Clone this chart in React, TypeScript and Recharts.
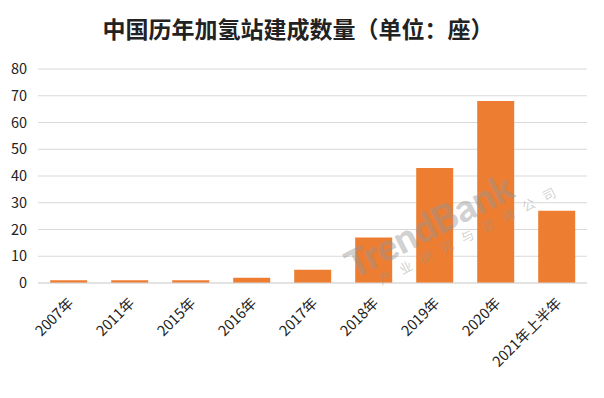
import React from 'react';
import { BarChart, Bar, XAxis, YAxis, CartesianGrid } from 'recharts';

const years = ['2007年', '2011年', '2015年', '2016年', '2017年', '2018年', '2019年', '2020年', '2021年上半年'];
const stations = [1, 1, 1, 2, 5, 17, 43, 68, 27];
const yTicks = [0, 10, 20, 30, 40, 50, 60, 70, 80];

const data = years.map((year, i) => ({ year, count: stations[i] }));

const FONT = '"Noto Sans CJK SC", "Noto Sans", sans-serif';

const XTick = (props: any) => {
  const { x, y, payload } = props;
  return (
    <text
      x={x + 6}
      y={y + 13}
      textAnchor="end"
      fontSize={14.5}
      fill="#222"
      fontFamily={FONT}
      transform={`rotate(-45, ${x + 6}, ${y + 13})`}
    >
      {payload.value}
    </text>
  );
};

export default function App() {
  return (
    <div
      style={{
        position: 'absolute',
        left: 0,
        top: 0,
        width: 604,
        height: 398,
        background: '#fff',
        fontFamily: FONT,
        overflow: 'hidden',
      }}
    >
      <div
        style={{
          position: 'absolute',
          top: 11,
          left: 0,
          width: 596,
          textAlign: 'center',
          fontSize: 23,
          fontWeight: 700,
          color: '#222',
          lineHeight: '34px',
        }}
      >
        中国历年加氢站建成数量（单位：座）
      </div>
      <BarChart
        width={604}
        height={398}
        data={data}
        margin={{ top: 69, right: 17, left: 0, bottom: 0 }}
        barCategoryGap="20%"
      >
        <CartesianGrid vertical={false} stroke="#d9d9d9" />
        <XAxis
          dataKey="year"
          height={115}
          interval={0}
          tickLine={false}
          axisLine={{ stroke: '#d9d9d9' }}
          tick={<XTick />}
        />
        <YAxis
          width={38}
          domain={[0, 80]}
          ticks={yTicks}
          tickLine={false}
          axisLine={false}
          tickMargin={5}
          tick={{ fontSize: 14.5, fill: '#222', fontFamily: FONT }}
        />
        <Bar dataKey="count" fill="#ED7D31" isAnimationActive={false} />
      </BarChart>
      <div
        style={{
          position: 'absolute',
          left: 338,
          top: 248,
          transform: 'rotate(-27deg)',
          transformOrigin: 'left top',
          color: 'rgba(150,150,150,0.45)',
          pointerEvents: 'none',
          whiteSpace: 'nowrap',
        }}
      >
        <div style={{ fontSize: 38, fontWeight: 900, fontFamily: 'Lato, sans-serif', lineHeight: '40px' }}>
          TrendBank
        </div>
        <div style={{ fontSize: 13, letterSpacing: 10, marginLeft: 22, lineHeight: '16px' }}>产业研究与咨询公司</div>
      </div>
    </div>
  );
}
